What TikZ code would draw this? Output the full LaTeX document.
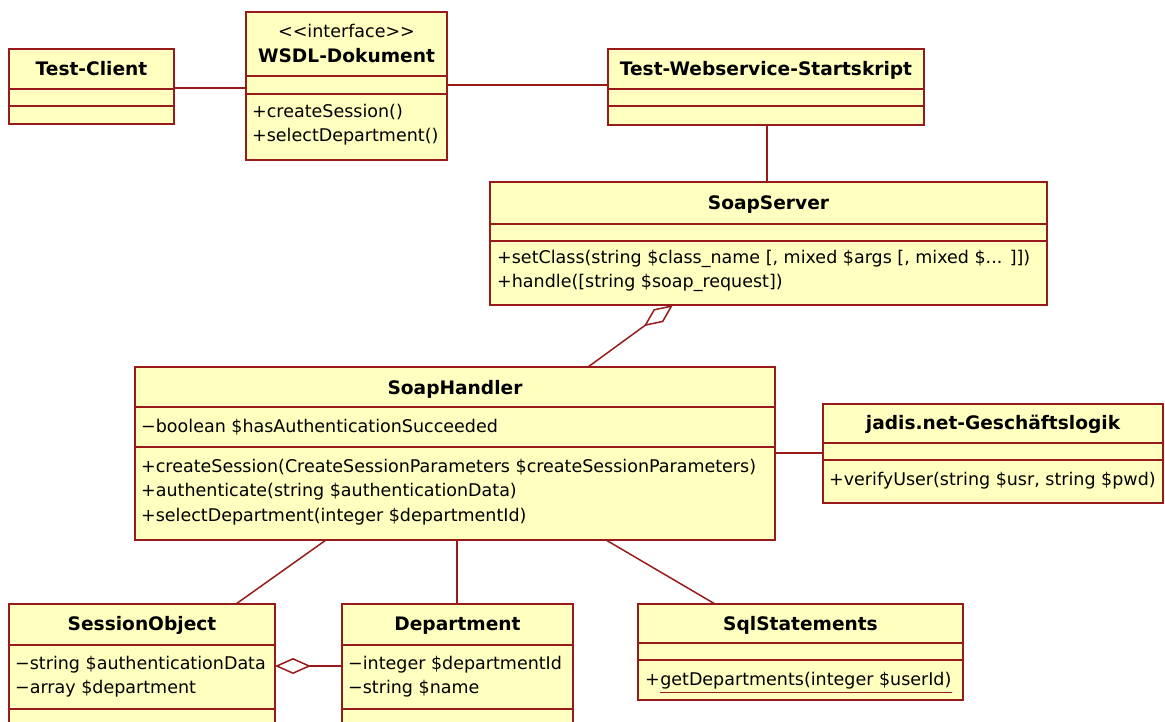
\documentclass[tikz,border=0pt]{standalone}
\usepackage{fontspec}
\setmainfont{DejaVu Sans}
\usetikzlibrary{arrows.meta,calc}

\definecolor{umlfill}{RGB}{255,255,192}
\definecolor{umlline}{RGB}{153,26,26}

\tikzset{
  classbox/.style={draw=umlline, fill=umlfill, line width=2pt, inner sep=0pt,
                   outer sep=0pt, anchor=north west},
  compline/.style={draw=umlline, line width=1.6pt},
  assoc/.style={draw=umlline, line width=1.5pt},
  aggr/.style={assoc, -{Diamond[open, length=36pt, width=16pt]}},
  txt/.style={inner sep=0pt, text height=13pt, text depth=4pt,
              font=\fontsize{17.5}{24}\selectfont},
  title/.style={txt, yshift=-2pt, font=\fontsize{18.6}{24}\selectfont\bfseries},
  member/.style={txt, anchor=west},
  underl/.style={draw=umlline, line width=1.3pt},
}

% name, x1, y1, x2, y2, first compartment rule, second compartment rule
\newcommand\umlclass[7]{%
  \node[classbox, minimum width={#4-#2}, minimum height={#5-#3}] (#1) at (#2,#3) {};
  \draw[compline] (#2,#6) -- (#4,#6);
  \draw[compline] (#2,#7) -- (#4,#7);
}

\begin{document}
\begin{tikzpicture}[x=1pt, y=-1pt]
\useasboundingbox (0,0) rectangle (1165,722);
\clip (0,0) rectangle (1165,722);

% classes
\umlclass{tc}{9}{49}{174}{124}{89}{106}
\umlclass{wsdl}{246}{12}{447}{160}{76}{94}
\umlclass{tws}{608}{49}{924}{125}{89}{106}
\umlclass{ss}{490}{182}{1047}{305}{224}{241}
\umlclass{sh}{135}{367}{775}{540}{407}{447}
\umlclass{jadis}{823}{404}{1163}{503}{443}{460}
\umlclass{so}{9}{604}{275}{760}{645}{709}
\umlclass{dept}{342}{604}{573}{760}{645}{709}
\umlclass{sql}{638}{604}{963}{700}{643}{660}

% Test-Client
\node[title] (tc-name) at (91.5,69) {Test-Client};

% WSDL-Dokument
\node[txt] (wsdl-stereo) at (346.5,33) {<\kern0pt<interface>\kern0pt>};
\node[title] (wsdl-name) at (346.5,56) {WSDL-Dokument};
\node[member] (wsdl-op1) at (252,113) {+createSession()};
\node[member] (wsdl-op2) at (252,137) {+selectDepartment()};

% Test-Webservice-Startskript
\node[title] (tws-name) at (766,69) {Test-Webservice-Startskript};

% SoapServer
\node[title] (ss-name) at (768.5,203) {SoapServer};
\node[member] (ss-op1) at (497,259) {+setClass(string \$class\_name [, mixed \$args [, mixed \$... ]])};
\node[member] (ss-op2) at (497,283) {+handle([string \$soap\_request])};

% SoapHandler
\node[title] (sh-name) at (455,388) {SoapHandler};
\node[member] (sh-at1) at (141,428) {−boolean \$hasAuthenticationSucceeded};
\node[member] (sh-op1) at (141,468) {+createSession(CreateSessionParameters \$createSessionParameters)};
\node[member] (sh-op2) at (141,492) {+authenticate(string \$authenticationData)};
\node[member] (sh-op3) at (141,517) {+selectDepartment(integer \$departmentId)};

% jadis.net-Geschaeftslogik
\node[title] (jadis-name) at (993,423) {jadis.net-Geschäftslogik};
\node[member] (jadis-op1) at (829,481) {+verifyUser(string \$usr, string \$pwd)};

% SessionObject
\node[title] (so-name) at (142,624) {SessionObject};
\node[member] (so-at1) at (15,665) {−string \$authenticationData};
\node[member] (so-at2) at (15,689) {−array \$department};

% Department
\node[title] (dept-name) at (457.5,624) {Department};
\node[member] (dept-at1) at (348,665) {−integer \$departmentId};
\node[member] (dept-at2) at (348,689) {−string \$name};

% SqlStatements
\node[title] (sql-name) at (800.5,624) {SqlStatements};
\node[member] (sql-plus) at (645,681) {+};
\node[member] (sql-op1) at (sql-plus.east) {getDepartments(integer \$userId)};
\draw[underl] ([yshift=-3pt]sql-op1.south west) -- ([yshift=-3pt]sql-op1.south east);

% associations
\draw[assoc] ($(tc.north east)+(0,39)$) -- ($(wsdl.north west)+(0,76)$);
\draw[assoc] ($(wsdl.north east)+(0,73)$) -- ($(tws.north west)+(0,36)$);
\draw[assoc] ($(tws.south west)+(159,0)$) -- ($(ss.north west)+(277,0)$);
\draw[assoc] ($(sh.north east)+(0,86)$) -- ($(jadis.north west)+(0,49)$);
\draw[assoc] ($(sh.south west)+(191,0)$) -- ($(so.north west)+(227,0)$);
\draw[assoc] ($(sh.south west)+(322,0)$) -- ($(dept.north west)+(115,0)$);
\draw[assoc] ($(sh.south west)+(471,0)$) -- ($(sql.north west)+(77,0)$);

% aggregations
\draw[aggr] ($(sh.north west)+(453,0)$) -- ($(ss.south west)+(183,0)$);
\draw[aggr] ($(dept.north west)+(0,62)$) -- ($(so.north east)+(0,62)$);
\end{tikzpicture}
\end{document}
